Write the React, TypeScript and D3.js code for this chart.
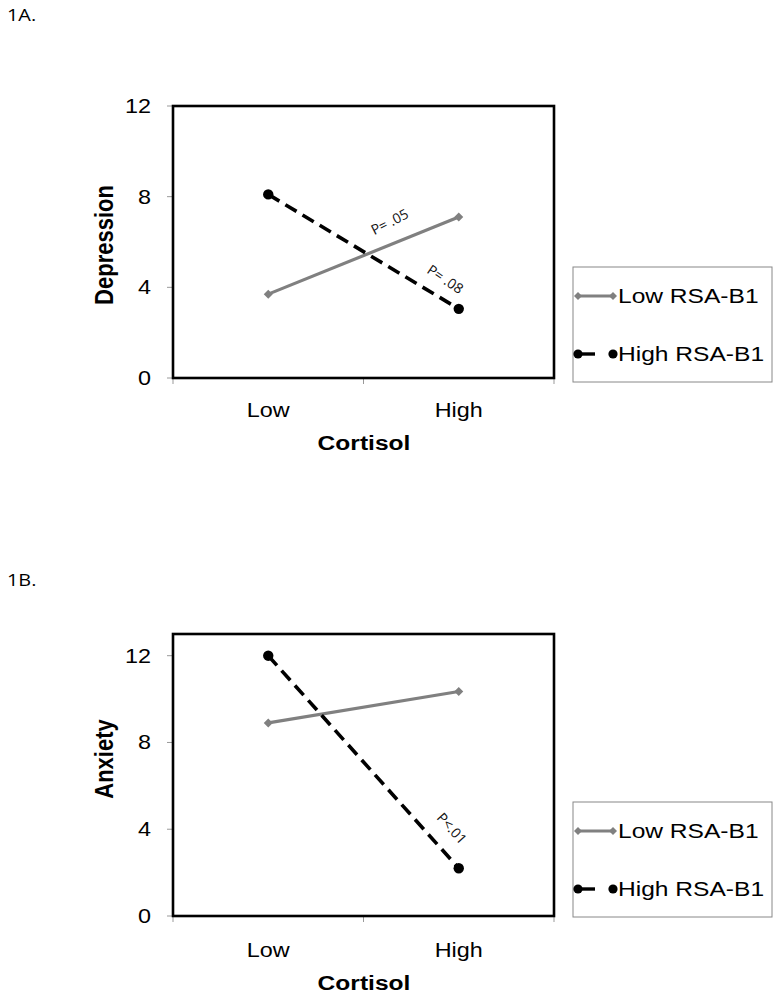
import React from "react";
import * as d3 from "d3";

const categories = ["Low", "High"];
const seriesNames = ["Low RSA-B1", "High RSA-B1"];
const yTicks = [0, 4, 8, 12];
const depressionLow = [3.7, 7.1];
const depressionHigh = [8.1, 3.05];
const anxietyLow = [8.9, 10.35];
const anxietyHigh = [12.0, 2.2];
const annotationsA = [
  { text: "P= .05", series: "low", t: 0.68, d: 22, tilt: -5 },
  { text: "P= .08", series: "high", t: 0.88, d: 19, tilt: 3 },
];
const annotationsB = [{ text: "P<.01", series: "high", t: 0.88, d: 22, tilt: 0 }];

const SX = 1.17;
const ARIAL = "'Liberation Sans', Arial, sans-serif";
const CALI = "'Open Sans', 'Noto Sans', sans-serif";

function SText({ x, y, anchor = "start", size, weight = "normal", family = ARIAL, fill = "#000", rotate = 0, baseline, children }: any) {
  return (
    <text
      transform={`translate(${x},${y}) scale(${SX},1) rotate(${rotate})`}
      textAnchor={anchor}
      fontSize={size}
      fontWeight={weight}
      fontFamily={family}
      fill={fill}
      dominantBaseline={baseline}
    >
      {children}
    </text>
  );
}

function Diamond({ x, y, s = 4.5, fill = "#808080" }: any) {
  return <path d={`M${x},${y - s}L${x + s},${y}L${x},${y + s}L${x - s},${y}Z`} fill={fill} />;
}

function Panel({ top, bottom, yMax, yLabel, yLabelCenter, low, high, annotations, legendTop, xLabelBase }: any) {
  const left = 173, right = 554;
  const x = d3.scaleBand().domain(categories).range([left, right]);
  const y = d3.scaleLinear().domain([0, yMax]).range([bottom, top]);
  const cx = (c: string) => (x(c) as number) + x.bandwidth() / 2;
  const line = d3.line<number>().x((_, i) => cx(categories[i])).y((v) => y(v));
  const boundaries = [left, ...categories.map((c) => (x(c) as number) + x.bandwidth())];
  const gray = "#808080";
  return (
    <g>
      {yTicks.map((t) => (
        <g key={t}>
          <line x1={left - 6} x2={left} y1={y(t)} y2={y(t)} stroke="#999" strokeWidth={1} />
          <SText x={151} y={y(t)} anchor="end" size={20} baseline="central">{t}</SText>
        </g>
      ))}
      {boundaries.map((b, i) => (
        <line key={i} x1={b} x2={b} y1={bottom} y2={bottom + 6} stroke="#999" strokeWidth={1} />
      ))}
      {categories.map((c) => (
        <SText key={c} x={cx(c)} y={xLabelBase} anchor="middle" size={20}>{c}</SText>
      ))}
      <SText x={364} y={xLabelBase + 33} anchor="middle" size={21} weight="bold">Cortisol</SText>
      <SText x={113} y={yLabelCenter} anchor="middle" size={22} weight="bold" rotate={-90}>{yLabel}</SText>
      <rect x={left} y={top} width={right - left} height={bottom - top} fill="none" stroke="#000" strokeWidth={2.6} />
      <path d={line(low) as string} fill="none" stroke={gray} strokeWidth={3.2} />
      {low.map((v: number, i: number) => (
        <Diamond key={i} x={cx(categories[i])} y={y(v)} s={4.5} />
      ))}
      <path d={line(high) as string} fill="none" stroke="#000" strokeWidth={3.6} strokeDasharray="13,7" />
      {high.map((v: number, i: number) => (
        <circle key={i} cx={cx(categories[i])} cy={y(v)} r={5.2} fill="#000" />
      ))}
      {annotations.map((a: any, k: number) => {
        const vals = a.series === "low" ? low : high;
        const x0 = cx(categories[0]), x1 = cx(categories[1]);
        const y0 = y(vals[0]), y1 = y(vals[1]);
        const px = x0 + (x1 - x0) * a.t, py = y0 + (y1 - y0) * a.t;
        const ang = (Math.atan2(y1 - y0, x1 - x0) * 180) / Math.PI;
        return (
          <text key={k} transform={`translate(${px},${py}) rotate(${ang}) translate(0,${-a.d}) rotate(${a.tilt})`} textAnchor="middle"
            dominantBaseline="central" fontSize={14} fontFamily={CALI} fill="#111">{a.text}</text>
        );
      })}
      <rect x={573} y={legendTop} width={199} height={115} fill="#fff" stroke="#888" strokeWidth={1} />
      <line x1={578} x2={613} y1={legendTop + 29} y2={legendTop + 29} stroke={gray} strokeWidth={3} />
      <Diamond x={578} y={legendTop + 29} s={4} />
      <Diamond x={613} y={legendTop + 29} s={4} />
      <SText x={618} y={legendTop + 29} size={21} baseline="central">{seriesNames[0]}</SText>
      <line x1={578} x2={613} y1={legendTop + 87} y2={legendTop + 87} stroke="#000" strokeWidth={3.4} strokeDasharray="17,40" />
      <circle cx={578} cy={legendTop + 87} r={4.6} fill="#000" />
      <circle cx={613} cy={legendTop + 87} r={4.6} fill="#000" />
      <SText x={618} y={legendTop + 87} size={21} baseline="central">{seriesNames[1]}</SText>
    </g>
  );
}

export default function App() {
  return (
    <svg width={781} height={998} style={{ position: "absolute", left: 0, top: 0, background: "#fff" }}>
      <rect width={781} height={998} fill="#fff" />
      <SText x={7} y={21} size={17} family={CALI}>1A.</SText>
      <SText x={7} y={586} size={17} family={CALI}>1B.</SText>
      <Panel top={106} bottom={378} yMax={12} yLabel="Depression" yLabelCenter={245} low={depressionLow} high={depressionHigh}
        annotations={annotationsA} legendTop={267} xLabelBase={417} />
      <Panel top={634} bottom={916} yMax={13} yLabel="Anxiety" yLabelCenter={759} low={anxietyLow} high={anxietyHigh}
        annotations={annotationsB} legendTop={802} xLabelBase={957} />
    </svg>
  );
}
